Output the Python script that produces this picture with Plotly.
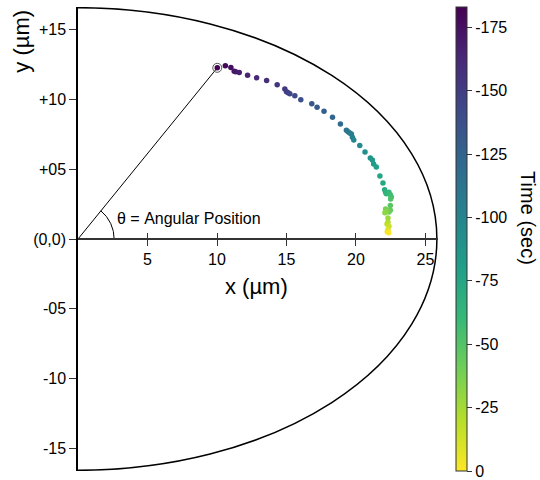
import numpy as np
import plotly.graph_objects as go

# ---- data ----
x_um = [10.02, 10.60, 11.00, 11.24, 11.34, 11.60, 12.20, 12.85, 13.57, 14.33,
        14.88, 15.00, 15.12, 15.24, 15.60, 16.03, 16.82, 17.20, 17.70, 18.31,
        18.88, 19.31, 19.43, 19.55, 19.67, 19.74, 19.84, 20.27, 20.65, 21.03,
        21.18, 21.27, 21.46, 21.72, 21.94, 22.06, 22.13, 22.18, 22.37, 22.47,
        22.54, 22.49, 22.47, 22.47, 22.37, 22.13, 22.18, 22.08, 22.30, 22.30,
        22.23, 22.37, 22.30, 22.25, 22.35]
y_um = [12.25, 12.39, 12.27, 12.01, 11.96, 11.92, 11.72, 11.53, 11.34, 11.03,
        10.73, 10.53, 10.46, 10.39, 10.25, 9.96, 9.68, 9.42, 9.14, 8.71,
        8.23, 7.78, 7.68, 7.59, 7.52, 7.28, 7.09, 6.69, 6.22, 5.79,
        5.65, 5.36, 5.15, 4.50, 4.01, 3.53, 3.34, 3.24, 3.34, 3.17,
        3.01, 2.87, 2.39, 2.05, 1.94, 2.15, 1.98, 1.87, 1.51, 1.20,
        1.08, 0.91, 0.68, 0.51, 0.44]
time_sec = [-183, -180, -177, -174, -171, -168, -165, -162, -159, -155,
            -152, -149, -147, -145, -142, -138, -134, -131, -127, -123,
            -119, -114, -111, -108, -105, -103, -100, -96, -92, -89,
            -86, -83, -80, -76, -73, -70, -67, -64, -61, -58,
            -55, -52, -48, -44, -41, -38, -35, -32, -27, -22,
            -18, -14, -10, -5, 0]

x_tickvals = [5, 10, 15, 20, 25]
y_tickvals = [-15, -10, -5, 0, 5, 10, 15]
y_ticktext = ["-15", "-10", "-05", "(0,0)", "+05", "+10", "+15"]
cb_ticks = [0, -25, -50, -75, -100, -125, -150, -175]
cb_ticktext = [str(v) for v in cb_ticks]
time_min = -183

boundary_a = 25.82   # half-ellipse semi-axis along x (µm)
boundary_b = 16.55   # half-ellipse semi-axis along y (µm)
arc_radius = 2.6

FONT = "Liberation Sans, Arial, sans-serif"
XR = [0, 25.9]
YR = [-16.6, 16.6]

fig = go.Figure()

# line from origin to starting point
fig.add_trace(go.Scatter(x=[0, x_um[0]], y=[0, y_um[0]], mode="lines",
                         line=dict(color="black", width=1),
                         hoverinfo="skip", showlegend=False))

# angle arc
theta0 = np.arctan2(y_um[0], x_um[0])
tt = np.linspace(0, theta0, 40)
fig.add_trace(go.Scatter(x=arc_radius * np.cos(tt), y=arc_radius * np.sin(tt),
                         mode="lines", line=dict(color="black", width=1),
                         xaxis="x2", hoverinfo="skip", showlegend=False))

# trajectory points
fig.add_trace(go.Scatter(
    x=x_um, y=y_um, mode="markers",
    marker=dict(size=5.5, color=[-t for t in time_sec], colorscale="Viridis",
                reversescale=True, cmin=0, cmax=-time_min,
                colorbar=dict(x=1.05, xanchor="left", xpad=0, y=0.5,
                              yanchor="middle", len=1, lenmode="fraction",
                              ypad=0, thickness=11, outlinewidth=1,
                              outlinecolor="#333", ticks="outside", ticklen=5,
                              tickcolor="#333",
                              tickvals=[-v for v in cb_ticks],
                              ticktext=cb_ticktext,
                              tickfont=dict(size=16, color="black", family=FONT))),
    hoverinfo="skip", showlegend=False))

# ring around the start point
fig.add_trace(go.Scatter(x=[x_um[0]], y=[y_um[0]], mode="markers",
                         marker=dict(symbol="circle-open", size=9, color="#555",
                                     line=dict(width=1)),
                         hoverinfo="skip", showlegend=False))

fig.add_shape(type="circle", xref="x", yref="y",
              x0=-boundary_a, x1=boundary_a, y0=-boundary_b, y1=boundary_b,
              line=dict(color="black", width=1.5), layer="below")

fig.update_layout(
    width=540, height=480,
    margin=dict(l=78, r=102, t=7, b=9),
    paper_bgcolor="white", plot_bgcolor="white",
    font=dict(family=FONT, size=16, color="black"),
    xaxis=dict(range=XR, anchor="free", position=0.5, tickvals=x_tickvals,
               ticks="outside", ticklen=6, tickwidth=1.2, tickcolor="#333",
               showline=True, linecolor="#333", linewidth=2,
               showgrid=False, zeroline=False,
               tickfont=dict(size=16, family=FONT)),
    xaxis2=dict(range=XR, overlaying="x", matches="x", anchor="free",
                position=0.5, side="bottom", tickvals=x_tickvals,
                ticks="inside", ticklen=6, tickwidth=1.2, tickcolor="#333",
                showticklabels=False, showline=False, showgrid=False,
                zeroline=False),
    yaxis=dict(range=YR, tickvals=y_tickvals, ticktext=y_ticktext,
               ticks="outside", ticklen=7, tickwidth=1.2, tickcolor="#333",
               showline=True, linecolor="black", linewidth=1.5,
               showgrid=False, zeroline=False,
               tickfont=dict(size=16, family=FONT)),
    annotations=[
        dict(text="x (µm)", xref="paper", yref="paper", x=0.497, y=0.397,
             xanchor="center", yanchor="middle",
             showarrow=False, font=dict(size=22, family=FONT)),
        dict(text="y (µm)", xref="paper", yref="paper", x=-0.156, y=0.927,
             xanchor="center", yanchor="middle",
             textangle=-90, showarrow=False, font=dict(size=22, family=FONT)),
        dict(text="Time (sec)", xref="paper", yref="paper", x=1.25, y=0.545,
             xanchor="center", yanchor="middle",
             textangle=90, showarrow=False, font=dict(size=20, family=FONT)),
        dict(text="θ = Angular Position", xref="x", yref="y", x=2.64, y=1.46,
             xanchor="left", yanchor="middle", showarrow=False,
             font=dict(size=16, family=FONT)),
    ],
)

fig.write_html("out.html",
               config={"displayModeBar": False},
               post_script="document.body.style.margin='0px';"
                           "document.body.style.overflow='hidden';")
